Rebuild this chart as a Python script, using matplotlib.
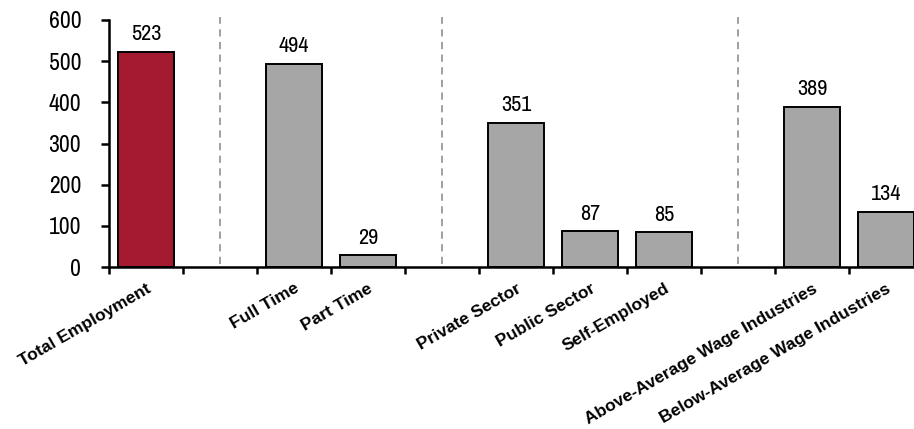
import matplotlib
matplotlib.use("Agg")
import matplotlib.pyplot as plt

categories = ["Total Employment", "", "Full Time", "Part Time", "",
              "Private Sector", "Public Sector", "Self-Employed", "",
              "Above-Average Wage Industries", "Below-Average Wage Industries"]
values = [523, None, 494, 29, None, 351, 87, 85, None, 389, 134]
highlight = "Total Employment"
y_ticks = [0, 100, 200, 300, 400, 500, 600]

RED = "#A41A30"
GRAY = "#A6A6A6"

num_font = ["Archivo Narrow", "DejaVu Sans"]
lab_font = ["Liberation Sans", "DejaVu Sans"]

W, H = 914, 429
fig = plt.figure(figsize=(W / 100, H / 100), dpi=100)
x0, x1 = 109, 923
y0, y1 = 267, 20
ax = fig.add_axes([x0 / W, 1 - y0 / H, (x1 - x0) / W, (y0 - y1) / H])

positions = list(range(len(categories)))
for i, (cat, v) in enumerate(zip(categories, values)):
    if v is None:
        # separator between groups
        ax.plot([i, i], [8, 608], ls=(0, (4, 3)), color="#999999", lw=1.3,
                clip_on=False)
        continue
    color = RED if cat == highlight else GRAY
    ax.bar(i, v, width=0.77, color=color, edgecolor="black", linewidth=1.4,
           zorder=2)
    ax.text(i, v + 18, f"{v}", ha="center", va="bottom", fontsize=16,
            family=num_font)

ax.set_xlim(-0.5, len(categories) - 0.5)
ax.set_ylim(0, 600)

ax.set_xticks(positions)
ax.set_xticklabels(categories, rotation=30, ha="right",
                   rotation_mode="anchor", fontsize=12.5, fontweight="bold",
                   family=lab_font)
ax.tick_params(axis="x", which="major", length=0, pad=10)
ax.set_xticks([p - 0.5 for p in range(len(categories) + 1)], minor=True)
ax.tick_params(axis="x", which="minor", length=5, width=1.8, direction="out")

ax.set_yticks(y_ticks)
ax.set_yticklabels([str(t) for t in y_ticks], fontsize=17, family=num_font)
ax.tick_params(axis="y", length=6, width=1.8, pad=14)

for s in ["top", "right"]:
    ax.spines[s].set_visible(False)
ax.spines["left"].set_linewidth(1.8)
ax.spines["bottom"].set_linewidth(1.8)

fig.savefig("out.png", dpi=100)
